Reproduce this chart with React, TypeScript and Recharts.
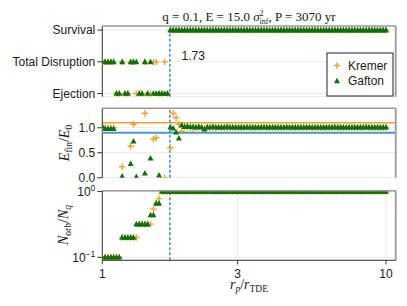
import React from "react"
import { ScatterChart, Scatter, XAxis, YAxis, CartesianGrid, ReferenceLine } from "recharts"

// r_p / r_TDE grid (log spaced, 1 .. 10)
const rp = [
  1.0, 1.023, 1.047, 1.072, 1.096, 1.122, 1.148, 1.175, 1.202, 1.23,
  1.259, 1.288, 1.318, 1.349, 1.38, 1.413, 1.445, 1.479, 1.514, 1.549,
  1.585, 1.622, 1.66, 1.698, 1.738, 1.778, 1.82, 1.862, 1.905, 1.95,
  1.995, 2.042, 2.089, 2.138, 2.188, 2.239, 2.291, 2.344, 2.399, 2.455,
  2.512, 2.57, 2.63, 2.692, 2.754, 2.818, 2.884, 2.951, 3.02, 3.09,
  3.162, 3.236, 3.311, 3.388, 3.467, 3.548, 3.631, 3.715, 3.802, 3.89,
  3.981, 4.074, 4.169, 4.266, 4.365, 4.467, 4.571, 4.677, 4.786, 4.898,
  5.012, 5.129, 5.248, 5.37, 5.495, 5.623, 5.754, 5.888, 6.026, 6.166,
  6.31, 6.457, 6.607, 6.761, 6.918, 7.079, 7.244, 7.413, 7.586, 7.762,
  7.943, 8.128, 8.318, 8.511, 8.71, 8.913, 9.12, 9.333, 9.55, 9.772,
  10.0,
]

const outcomeLabels = ["Ejection", "Total Disruption", "Survival"]

// 0 = ejection, 1 = total disruption, 2 = survival
const kremerOutcome = [
  1, 1, 1, 1, 1, 0, 0, 1, 0, 0, 1, 1, 0, 0, 0, 1, 0, 0, 1, 1, 0, 0, 1, 0,
  2, 2, 2, 2, 2, 2, 2, 2, 2, 2, 2,
  2, 2, 2, 2, 2, 2, 2, 2, 2, 2, 2,
  2, 2, 2, 2, 2, 2, 2, 2, 2, 2, 2,
  2, 2, 2, 2, 2, 2, 2, 2, 2, 2, 2,
  2, 2, 2, 2, 2, 2, 2, 2, 2, 2, 2,
  2, 2, 2, 2, 2, 2, 2, 2, 2, 2, 2,
  2, 2, 2, 2, 2, 2, 2, 2, 2, 2, 2,
]
const gaftonOutcome = [
  1, 1, 1, 1, 1, 0, 0, 1, 0, 0, 1, 1, 1, 0, 0, 1, 0, 1, 0, 0, 0, 0, 0, 0,
  2, 2, 2, 2, 2, 2, 2, 2, 2, 2, 2,
  2, 2, 2, 2, 2, 2, 2, 2, 2, 2, 2,
  2, 2, 2, 2, 2, 2, 2, 2, 2, 2, 2,
  2, 2, 2, 2, 2, 2, 2, 2, 2, 2, 2,
  2, 2, 2, 2, 2, 2, 2, 2, 2, 2, 2,
  2, 2, 2, 2, 2, 2, 2, 2, 2, 2, 2,
  2, 2, 2, 2, 2, 2, 2, 2, 2, 2, 2,
]

// E_fin / E_0 (null = off the plotted range)
const kremerEnergy = [
  0.95, 1.0, 1.0, 1.0, 1.0, null, null, 0.22, null, null, 0.63, 1.07,
  null, null, null, 1.29, null, null, 0.77, 0.8, null, null, 0.0, null,
  0.6, 1.29, 1.2, 1.07, 0.93, 1.03, 1.01, 0.99, 0.97, 1.0, 1.01, 1.0,
  1.0, 1.01, 1.0, 1.0, 1.0, 1.01, 1.0, 1.0, 1.0, 1.0, 1.01, 1.0,
  1.0, 1.0, 1.0, 1.01, 1.0, 1.0, 1.0, 1.0, 1.0, 1.01, 1.0, 1.0,
  1.0, 1.0, 1.0, 1.0, 1.0, 1.01, 1.0, 1.0, 1.0, 1.0, 1.0, 1.0,
  1.0, 1.01, 1.0, 1.0, 1.0, 1.0, 1.0, 1.0, 1.0, 1.0, 1.01, 1.0,
  1.0, 1.0, 1.0, 1.0, 1.0, 1.0, 1.0, 1.0, 1.0, 1.01, 1.0, 1.0,
  1.0, 1.0, 1.0, 1.0, 1.0,
]
const gaftonEnergy = [
  1.03, 0.98, 0.98, 0.98, 0.98, null, null, 0.03, null, null, 0.28, 0.73,
  0.02, null, null, 0.09, null, 0.39, null, null, 0.05, null, null, null,
  1.01, 0.99, 0.91, 0.79, 1.05, 1.02, 1.03, 1.02, 1.02, 1.01, 1.02, 1.01,
  0.97, 1.01, 1.01, 1.02, 1.01, 1.01, 1.01, 1.01, 1.02, 1.01, 1.01, 1.01,
  1.01, 1.01, 1.01, 1.01, 1.01, 1.01, 1.01, 1.01, 1.01, 1.01, 1.01, 1.01,
  1.01, 1.01, 1.01, 1.01, 1.01, 1.01, 1.01, 1.01, 1.01, 1.01, 1.01, 1.01,
  1.01, 1.01, 1.01, 1.01, 1.01, 1.01, 1.01, 1.01, 1.01, 1.01, 1.01, 1.01,
  1.01, 1.01, 1.01, 1.01, 1.01, 1.01, 1.01, 1.01, 1.01, 1.01, 1.01, 1.01,
  1.01, 1.01, 1.01, 1.01, 1.01,
]

// N_orb / N_q
const kremerNorb = [
  0.1, 0.1, 0.1, 0.1, 0.1, 0.1, 0.1, 0.2, 0.2, 0.2, 0.2, 0.2,
  0.2, 0.32, 0.32, 0.32, 0.32, 0.32, 0.54, 0.66, 0.78, 1, 1, 1,
  1, 1, 1, 1, 1, 1, 1, 1, 1, 1, 1,
  1, 1, 1, 1, 1, 1, 1, 1, 1, 1, 1,
  1, 1, 1, 1, 1, 1, 1, 1, 1, 1, 1,
  1, 1, 1, 1, 1, 1, 1, 1, 1, 1, 1,
  1, 1, 1, 1, 1, 1, 1, 1, 1, 1, 1,
  1, 1, 1, 1, 1, 1, 1, 1, 1, 1, 1,
  1, 1, 1, 1, 1, 1, 1, 1, 1, 1, 1,
]
const gaftonNorb = [
  0.1, 0.1, 0.1, 0.1, 0.1, 0.1, 0.1, 0.2, 0.2, 0.2, 0.2, 0.2,
  0.32, 0.32, 0.32, 0.32, 0.32, 0.44, 0.44, 0.66, 0.66, 1, 1, 1,
  1, 1, 1, 1, 1, 1, 1, 1, 1, 1, 1,
  1, 1, 1, 1, 1, 1, 1, 1, 1, 1, 1,
  1, 1, 1, 1, 1, 1, 1, 1, 1, 1, 1,
  1, 1, 1, 1, 1, 1, 1, 1, 1, 1, 1,
  1, 1, 1, 1, 1, 1, 1, 1, 1, 1, 1,
  1, 1, 1, 1, 1, 1, 1, 1, 1, 1, 1,
  1, 1, 1, 1, 1, 1, 1, 1, 1, 1, 1,
]

const xTicks = [1, 3, 10]
const rpCritical = 1.73
const energyUpper = 1.1
const energyLower = 0.9

const ORANGE = "#eba42c"
const GREEN = "#0d700d"
const BLUE = "#4a95cf"
const GRID = "#ebebeb"
const INK = "#1a1a1a"
const SANS = "Liberation Sans, Arial, sans-serif"
const SERIF = "Liberation Serif, Times New Roman, serif"

const PLOT_LEFT = 102.3
const PLOT_RIGHT = 395.7
const X_DOMAIN: [number, number] = [1, 10.82]

function toPoints(ys: (number | null)[]) {
  return rp.flatMap((x, i) => (ys[i] == null ? [] : [{ x, y: ys[i] as number }]))
}

// eslint-disable-next-line @typescript-eslint/no-explicit-any
function renderCross(props: any) {
  const { cx, cy } = props
  if (cx == null || cy == null) return <g />
  const r = 3.2
  return (
    <path
      d={`M${cx - r},${cy}H${cx + r}M${cx},${cy - r}V${cy + r}`}
      stroke={ORANGE}
      strokeWidth={1.4}
      fill="none"
    />
  )
}

// eslint-disable-next-line @typescript-eslint/no-explicit-any
function renderTriangle(props: any) {
  const { cx, cy } = props
  if (cx == null || cy == null) return <g />
  return <path d={`M${cx},${cy - 3.3}L${cx + 3},${cy + 2.3}L${cx - 3},${cy + 2.3}Z`} fill={GREEN} />
}

// eslint-disable-next-line @typescript-eslint/no-explicit-any
function OutcomeTick({ x, y, payload }: any) {
  return (
    <text x={x} y={y} dy="0.355em" textAnchor="end" fontSize={12} fill={INK} fontFamily={SANS}>
      {outcomeLabels[payload.value]}
    </text>
  )
}

// eslint-disable-next-line @typescript-eslint/no-explicit-any
function PowerTick({ x, y, payload }: any) {
  const exp = Math.round(Math.log10(payload.value))
  return (
    <text x={x} y={y} dy="0.355em" textAnchor="end" fontSize={12} fill={INK} fontFamily={SANS}>
      10
      <tspan dy={-5} fontSize={8.5}>
        {exp < 0 ? `\u2212${-exp}` : exp}
      </tspan>
    </text>
  )
}

const axisLine = { stroke: "#333", strokeWidth: 1 }
const tickStyle = { fontSize: 12, fill: INK, fontFamily: SANS }

function hiddenX() {
  return (
    <XAxis
      type="number"
      dataKey="x"
      scale="log"
      domain={X_DOMAIN}
      allowDataOverflow
      ticks={xTicks}
      tick={false}
      tickLine={false}
      axisLine={axisLine}
      height={0}
    />
  )
}

function Frame({ top, bottom }: { top: number; bottom: number }) {
  return (
    <g>
      <line x1={PLOT_LEFT} x2={PLOT_RIGHT} y1={top} y2={top} stroke="#9a9a9a" strokeWidth={1.5} />
      <line x1={PLOT_RIGHT} x2={PLOT_RIGHT} y1={top} y2={bottom} stroke="#9a9a9a" strokeWidth={1.8} />
    </g>
  )
}

export default function App() {
  const margin = (top: number, bottom: number) => ({ top, bottom, left: 0, right: 407 - PLOT_RIGHT })

  return (
    <div
      style={{
        position: "absolute",
        left: 0,
        top: 0,
        width: 407,
        height: 306,
        background: "#fff",
        fontFamily: SANS,
        overflow: "hidden",
      }}
    >
      {/* outcome panel */}
      <div style={{ position: "absolute", left: 0, top: 0 }}>
        <ScatterChart width={407} height={104} margin={margin(26, 7.3)}>
          <CartesianGrid stroke={GRID} />
          {hiddenX()}
          <YAxis
            type="number"
            dataKey="y"
            domain={[-0.1, 2.13]}
            allowDataOverflow
            ticks={[0, 1, 2]}
            interval={0}
            width={PLOT_LEFT}
            tickSize={5}
            tick={<OutcomeTick />}
            axisLine={axisLine}
            tickLine={{ stroke: "#333" }}
          />
          <Scatter data={toPoints(kremerOutcome)} shape={renderCross} isAnimationActive={false} />
          <Scatter data={toPoints(gaftonOutcome)} shape={renderTriangle} isAnimationActive={false} />
          <ReferenceLine x={rpCritical} stroke={BLUE} strokeWidth={1.6} strokeDasharray="3 2" />
        </ScatterChart>
      </div>

      {/* energy panel */}
      <div style={{ position: "absolute", left: 0, top: 100 }}>
        <ScatterChart width={407} height={88} margin={margin(8.3, 10.3)}>
          <CartesianGrid stroke={GRID} />
          {hiddenX()}
          <YAxis
            type="number"
            dataKey="y"
            domain={[0, 1.39]}
            allowDataOverflow
            ticks={[0, 0.5, 1]}
            interval={0}
            tickFormatter={(v: number) => v.toFixed(1)}
            width={PLOT_LEFT}
            tickSize={5}
            tick={tickStyle}
            axisLine={axisLine}
            tickLine={{ stroke: "#333" }}
          />
          <ReferenceLine y={energyUpper} stroke={ORANGE} strokeWidth={1.6} />
          <ReferenceLine y={energyLower} stroke={BLUE} strokeWidth={2} />
          <Scatter data={toPoints(kremerEnergy)} shape={renderCross} isAnimationActive={false} />
          <Scatter data={toPoints(gaftonEnergy)} shape={renderTriangle} isAnimationActive={false} />
          <ReferenceLine x={rpCritical} stroke={BLUE} strokeWidth={1.6} strokeDasharray="3 2" />
        </ScatterChart>
      </div>

      {/* orbit-count panel */}
      <div style={{ position: "absolute", left: 0, top: 180 }}>
        <ScatterChart width={407} height={126} margin={margin(10.7, 25.7)}>
          <CartesianGrid stroke={GRID} />
          <XAxis
            type="number"
            dataKey="x"
            scale="log"
            domain={X_DOMAIN}
            allowDataOverflow
            ticks={xTicks}
            interval={0}
            height={20}
            tickSize={4}
            tickMargin={5}
            tick={tickStyle}
            axisLine={axisLine}
            tickLine={{ stroke: "#333" }}
          />
          <YAxis
            type="number"
            dataKey="y"
            scale="log"
            domain={[0.09, 1.03]}
            allowDataOverflow
            ticks={[0.1, 1]}
            interval={0}
            width={PLOT_LEFT}
            tickSize={5}
            tick={<PowerTick />}
            axisLine={axisLine}
            tickLine={{ stroke: "#333" }}
          />
          <Scatter data={toPoints(kremerNorb)} shape={renderCross} isAnimationActive={false} />
          <Scatter data={toPoints(gaftonNorb)} shape={renderTriangle} isAnimationActive={false} />
          <ReferenceLine x={rpCritical} stroke={BLUE} strokeWidth={1.6} strokeDasharray="3 2" />
        </ScatterChart>
      </div>

      {/* frames, title, labels */}
      <svg width={407} height={306} style={{ position: "absolute", left: 0, top: 0, pointerEvents: "none" }}>
        <Frame top={26} bottom={96.7} />
        <Frame top={108.3} bottom={177.7} />
        <Frame top={190.7} bottom={260.3} />

        <text x={249} y={20.5} textAnchor="middle" fontFamily={SERIF} fontSize={13} fill={INK}>
          q = 0.1, E = 15.0{" "}
          <tspan fontStyle="italic">σ</tspan>
          <tspan dy={-5} fontSize={8}>2</tspan>
          <tspan dx={-4} dy={8} fontSize={8}>inf</tspan>
          <tspan dy={-3}>, P = 3070 yr</tspan>
        </text>

        <text x={181.5} y={60} fontFamily={SANS} fontSize={12} fill={INK}>
          1.73
        </text>

        <text transform="translate(69,143) rotate(-90)" textAnchor="middle" fontFamily={SERIF} fontSize={14} fill={INK}>
          <tspan fontStyle="italic">E</tspan>
          <tspan fontSize={9.5} dy={3}>fin</tspan>
          <tspan dy={-3}>/</tspan>
          <tspan fontStyle="italic">E</tspan>
          <tspan fontSize={9.5} dy={3}>0</tspan>
        </text>

        <text transform="translate(68,225) rotate(-90)" textAnchor="middle" fontFamily={SERIF} fontSize={14} fill={INK}>
          <tspan fontStyle="italic">N</tspan>
          <tspan fontSize={9.5} dy={3}>orb</tspan>
          <tspan dy={-3}>/</tspan>
          <tspan fontStyle="italic">N</tspan>
          <tspan fontSize={9.5} dy={3} fontStyle="italic">q</tspan>
        </text>

        <text x={249} y={289} textAnchor="middle" fontFamily={SERIF} fontSize={14} fill={INK}>
          <tspan fontStyle="italic">r</tspan>
          <tspan fontSize={9.5} dy={3} fontStyle="italic">p</tspan>
          <tspan dy={-3}>/</tspan>
          <tspan fontStyle="italic">r</tspan>
          <tspan fontSize={9.5} dy={3}>TDE</tspan>
        </text>

        {/* legend */}
        <rect x={327} y={53} width={66} height={43} fill="#fff" stroke="#222" strokeWidth={1} />
        {renderCross({ cx: 337, cy: 65.5 })}
        <text x={348} y={65.5} dy="0.355em" fontFamily={SANS} fontSize={12} fill={INK}>
          Kremer
        </text>
        {renderTriangle({ cx: 337, cy: 81 })}
        <text x={348} y={81} dy="0.355em" fontFamily={SANS} fontSize={12} fill={INK}>
          Gafton
        </text>
      </svg>
    </div>
  )
}
